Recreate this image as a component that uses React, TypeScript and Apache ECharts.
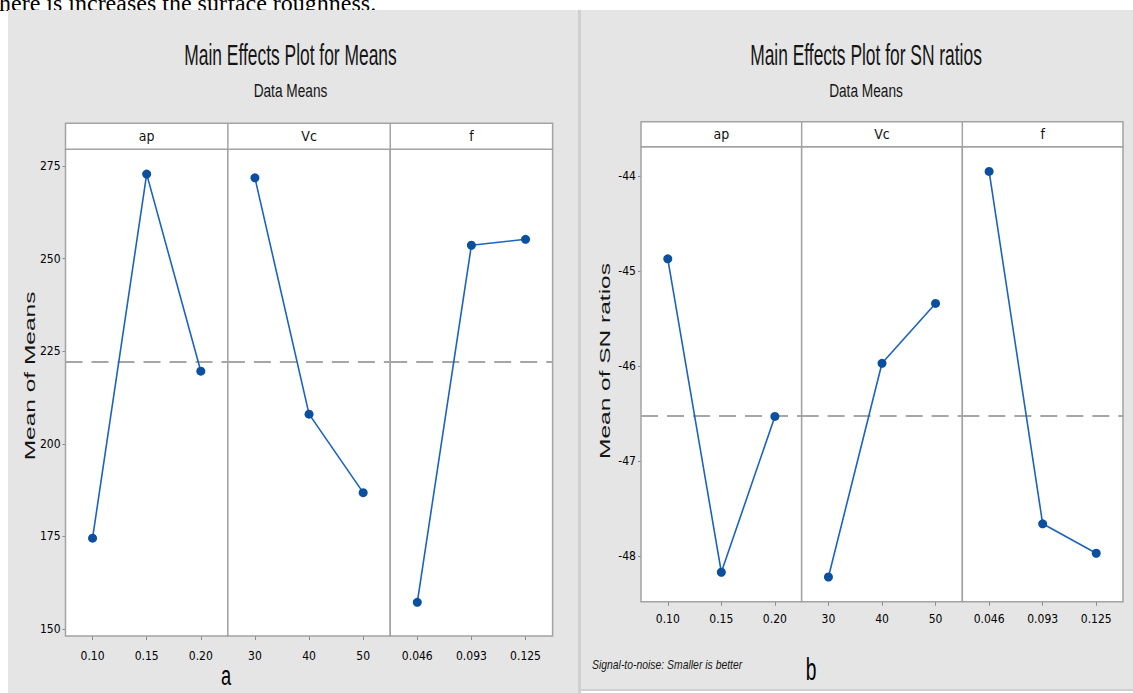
import React, { useEffect, useRef } from "react";
import * as echarts from "echarts";

// ---------- data ----------
const FACTORS = ["ap", "Vc", "f"];
const LEVELS_AP = ["0.10", "0.15", "0.20"];
const LEVELS_VC = ["30", "40", "50"];
const LEVELS_F = ["0.046", "0.093", "0.125"];

const MEANS_AP = [174.5, 272.8, 219.6];
const MEANS_VC = [271.8, 208.0, 186.8];
const MEANS_F = [157.2, 253.6, 255.2];

const SN_AP = [-44.87, -48.17, -46.53];
const SN_VC = [-48.22, -45.97, -45.34];
const SN_F = [-43.95, -47.66, -47.97];

const MEANS_TICKS = [150, 175, 200, 225, 250, 275];
const SN_TICKS = [-48, -47, -46, -45, -44];

// ---------- styling ----------
const NARROW = "'Liberation Sans Narrow', 'DejaVu Sans Condensed', 'Liberation Sans', Arial, sans-serif";
const SANS = "'Liberation Sans', Arial, sans-serif";
const LINE_COLOR = "#1b64bd";
const MARK_COLOR = "#0b4f9f";
const FRAME = "#a3a3a3";
const PANEL_BG = "#e5e5e5";

function avg(a: number[]) {
  return a.reduce((s, v) => s + v, 0) / a.length;
}

function buildOption() {
  const levels = [LEVELS_AP, LEVELS_VC, LEVELS_F];
  const meansData = [MEANS_AP, MEANS_VC, MEANS_F];
  const snData = [SN_AP, SN_VC, SN_F];
  const meansGrand = avg([...MEANS_AP, ...MEANS_VC, ...MEANS_F]);
  const snGrand = avg([...SN_AP, ...SN_VC, ...SN_F]);

  const L = { left: 65.5, top: 149.3, width: 487.1, height: 486.7, min: 148.1, max: 279.5 };
  const R = { left: 641, top: 146.7, width: 482, height: 455, min: -48.48, max: -43.69 };

  const grids: any[] = [];
  const xAxes: any[] = [];
  const yAxes: any[] = [];
  const series: any[] = [];

  const addChart = (
    C: any,
    data: number[][],
    ticks: number[],
    grand: number,
    labelMargin: number
  ) => {
    const w = C.width / 3;
    for (let i = 0; i < 3; i++) {
      const idx = grids.length;
      grids.push({
        left: C.left + i * w,
        top: C.top,
        width: w,
        height: C.height,
        show: true,
        backgroundColor: "#ffffff",
        borderColor: FRAME,
        borderWidth: 1.5,
        z: 2,
      });
      xAxes.push({
        type: "category",
        gridIndex: idx,
        data: levels[i],
        boundaryGap: true,
        axisLine: { show: false },
        axisTick: { show: true, alignWithLabel: true, length: 4, lineStyle: { color: "#8a8a8a" } },
        axisLabel: { fontSize: 12, fontFamily: NARROW, color: "#000", margin: labelMargin },
        splitLine: { show: false },
      });
      yAxes.push({
        type: "value",
        gridIndex: idx,
        min: C.min,
        max: C.max,
        show: i === 0,
        axisLine: { show: false },
        axisTick: { show: true, length: 3, customValues: ticks, lineStyle: { color: "#8a8a8a" } },
        axisLabel: {
          fontSize: 12,
          fontFamily: NARROW,
          color: "#000",
          margin: 5,
          customValues: ticks,
          formatter: (v: number) => String(Math.round(v)),
        },
        splitLine: { show: false },
      });
      series.push({
        type: "line",
        xAxisIndex: idx,
        yAxisIndex: idx,
        data: data[i],
        symbol: "circle",
        symbolSize: 9,
        itemStyle: { color: MARK_COLOR },
        lineStyle: { color: LINE_COLOR, width: 1.6 },
        z: 5,
        markLine: {
          silent: true,
          symbol: ["none", "none"],
          label: { show: false },
          lineStyle: { color: "#a6a6a6", width: 2, type: [17, 9] },
          data: [{ yAxis: grand }],
          z: 3,
        },
      });
    }
  };

  addChart(L, meansData, MEANS_TICKS, meansGrand, 14);
  addChart(R, snData, SN_TICKS, snGrand, 11);

  const strip = (C: any, top: number, bottom: number) => {
    const w = C.width / 3;
    const els: any[] = [
      {
        type: "rect",
        shape: { x: C.left, y: top, width: C.width, height: bottom - top },
        style: { fill: "#ffffff", stroke: FRAME, lineWidth: 1.5 },
        z: 10,
      },
    ];
    for (let i = 1; i < 3; i++) {
      els.push({
        type: "line",
        shape: { x1: C.left + i * w, y1: top, x2: C.left + i * w, y2: bottom },
        style: { stroke: FRAME, lineWidth: 1.5 },
        z: 11,
      });
    }
    for (let i = 0; i < 3; i++) {
      els.push({
        type: "text",
        x: C.left + (i + 0.5) * w,
        y: (top + bottom) / 2,
        style: {
          text: FACTORS[i],
          fontSize: 14,
          fontFamily: NARROW,
          fill: "#111",
          align: "center",
          verticalAlign: "middle",
        },
        z: 12,
      });
    }
    return els;
  };

  const graphic: any[] = [
    // document text above the figures
    {
      type: "text",
      x: -1,
      y: 15,
      style: {
        text: "here is increases the surface roughness.",
        fontSize: 24,
        fontFamily: "'Liberation Serif', 'Times New Roman', serif",
        fill: "#000",
        align: "left",
        verticalAlign: "bottom",
      },
      z: -20,
    },
    // panel backgrounds
    { type: "rect", shape: { x: 8, y: 10, width: 570, height: 683 }, style: { fill: PANEL_BG }, z: -10 },
    { type: "rect", shape: { x: 578, y: 10, width: 3, height: 683 }, style: { fill: "#d0d0d0" }, z: -10 },
    { type: "rect", shape: { x: 581, y: 10, width: 552, height: 679 }, style: { fill: PANEL_BG }, z: -10 },
    { type: "rect", shape: { x: 581, y: 689, width: 552, height: 2 }, style: { fill: "#d0d0d0" }, z: -10 },
    // titles
    {
      type: "text", x: 290.5, y: 55, scaleX: 0.58,
      style: { text: "Main Effects Plot for Means", fontSize: 30, fontFamily: SANS, fill: "#151515", align: "center", verticalAlign: "middle" },
      z: 12,
    },
    {
      type: "text", x: 290.5, y: 91, scaleX: 0.72,
      style: { text: "Data Means", fontSize: 19, fontFamily: SANS, fill: "#151515", align: "center", verticalAlign: "middle" },
      z: 12,
    },
    {
      type: "text", x: 866, y: 55, scaleX: 0.58,
      style: { text: "Main Effects Plot for SN ratios", fontSize: 30, fontFamily: SANS, fill: "#151515", align: "center", verticalAlign: "middle" },
      z: 12,
    },
    {
      type: "text", x: 866, y: 91, scaleX: 0.72,
      style: { text: "Data Means", fontSize: 19, fontFamily: SANS, fill: "#151515", align: "center", verticalAlign: "middle" },
      z: 12,
    },
    // axis titles
    {
      type: "text", x: 30, y: 376, rotation: Math.PI / 2, scaleX: 1.75,
      style: { text: "Mean of Means", fontSize: 14, fontFamily: SANS, fill: "#151515", align: "center", verticalAlign: "middle" },
      z: 12,
    },
    {
      type: "text", x: 605, y: 361, rotation: Math.PI / 2, scaleX: 1.75,
      style: { text: "Mean of SN ratios", fontSize: 14, fontFamily: SANS, fill: "#151515", align: "center", verticalAlign: "middle" },
      z: 12,
    },
    // captions
    {
      type: "text", x: 226, y: 676, scaleX: 0.65,
      style: { text: "a", fontSize: 28, fontFamily: SANS, fill: "#000", align: "center", verticalAlign: "middle" },
      z: 12,
    },
    {
      type: "text", x: 811, y: 669, scaleX: 0.6,
      style: { text: "b", fontSize: 32, fontFamily: SANS, fill: "#000", align: "center", verticalAlign: "middle" },
      z: 12,
    },
    {
      type: "text", x: 592, y: 664, scaleX: 0.8,
      style: { text: "Signal-to-noise: Smaller is better", fontSize: 13, fontStyle: "italic", fontFamily: SANS, fill: "#151515", align: "left", verticalAlign: "middle" },
      z: 12,
    },
    ...strip(L, 123.3, 149.3),
    ...strip(R, 121.7, 146.7),
  ];

  return {
    animation: false,
    backgroundColor: "#ffffff",
    grid: grids,
    xAxis: xAxes,
    yAxis: yAxes,
    series,
    graphic,
  };
}

export default function App() {
  const ref = useRef<HTMLDivElement>(null);
  useEffect(() => {
    if (!ref.current) return;
    const chart = echarts.init(ref.current, undefined, { renderer: "svg" });
    chart.setOption(buildOption() as any);
    return () => chart.dispose();
  }, []);
  return (
    <div
      ref={ref}
      style={{ position: "absolute", left: 0, top: 0, width: 1133, height: 693 }}
    />
  );
}
